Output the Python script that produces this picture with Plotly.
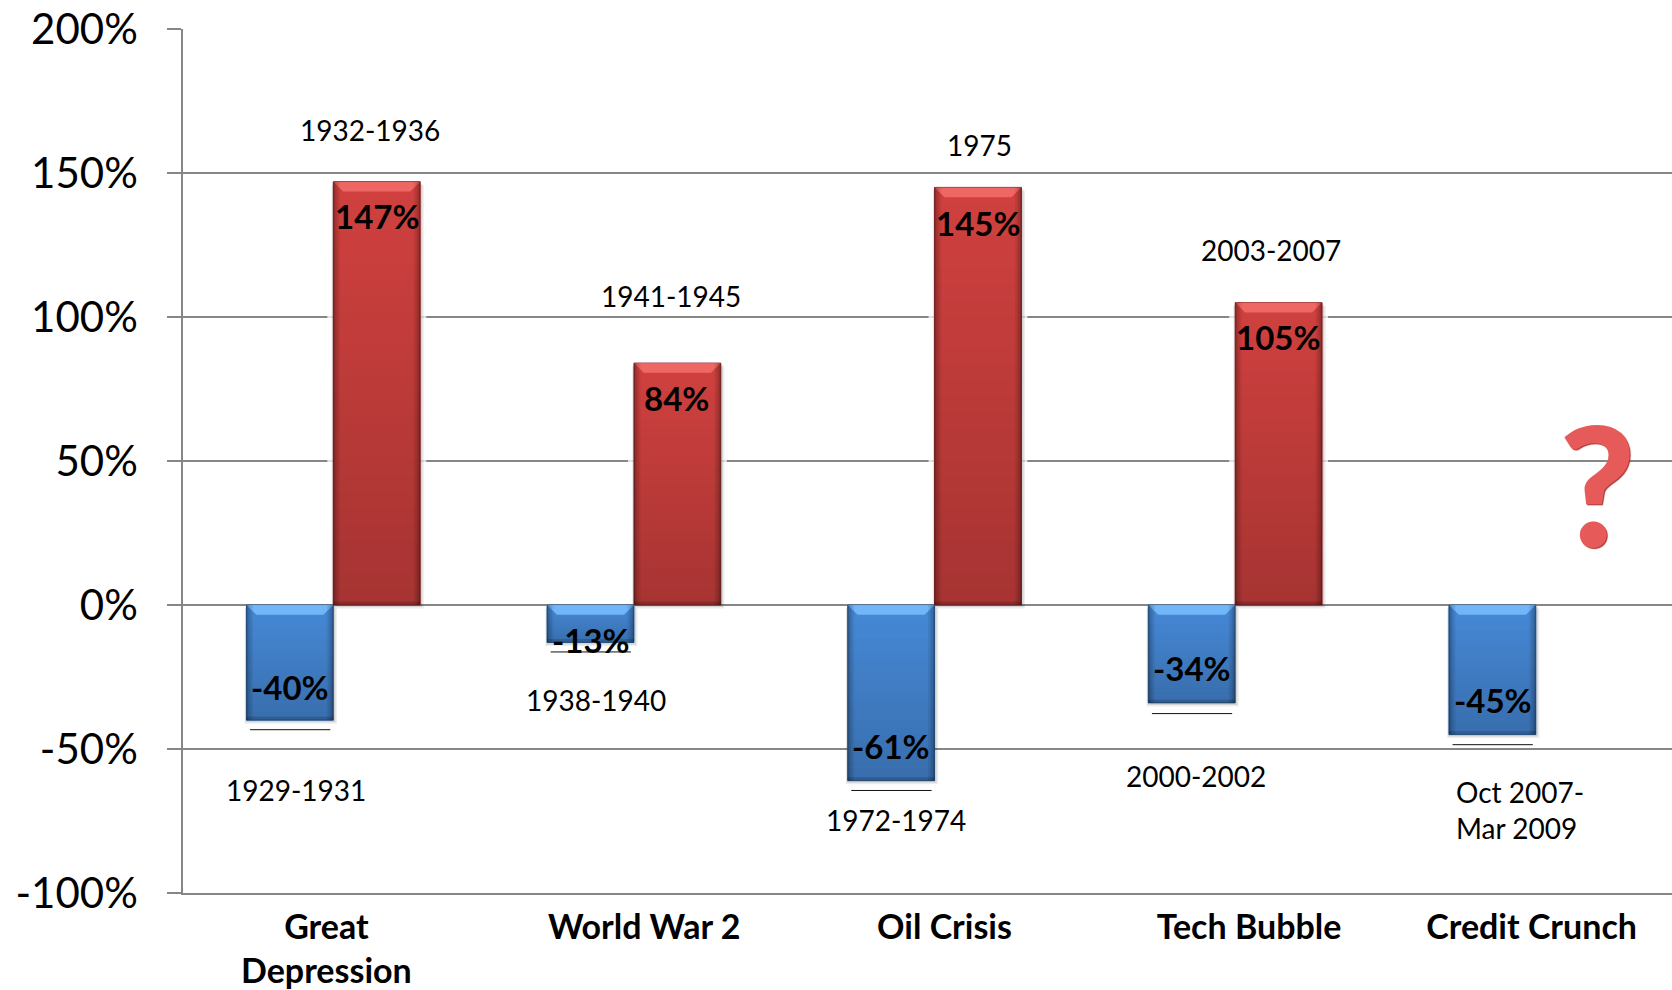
import plotly.graph_objects as go

# ---- data ----
groups = [0, 1, 2, 3, 4]
crash_values = [-40, -13, -61, -34, -45]
rally_values = [147, 84, 145, 105, None]
category_labels = ["Great<br>Depression", "World War 2", "Oil Crisis", "Tech Bubble", "Credit Crunch"]
category_tick_pos = [-0.023, 1.034, 2.033, 3.046, 3.986]
y_ticks = [-100, -50, 0, 50, 100, 150, 200]
y_tick_labels = ["-100%", "-50%", "0%", "50%", "100%", "150%", "200%"]

crash_label_x = [-0.143, 0.858, 1.856, 2.857, 3.858]
crash_label_y = [-28.4, -12.3, -49, -22, -33]
rally_label_x = [0.145, 1.14, 2.145, 3.144]
rally_label_y = [134.9, 71.8, 132.8, 92.9]

crash_periods = ["1929-1931", "1938-1940", "1972-1974", "2000-2002"]
crash_period_x = [-0.125, 0.875, 1.871, 2.868]
crash_period_y = [-64.2, -33.1, -74.6, -59.3]
rally_periods = ["1932-1936", "1941-1945", "1975", "2003-2007"]
rally_period_x = [0.123, 1.123, 2.15, 3.118]
rally_period_y = [165, 107.4, 159.8, 123.4]
leader_y = [-43.3, -16.3, -64.4, -37.7, -48.5]

# ---- style ----
W, H = 1672, 990
BAR_W = 0.289
GRID = "#868686"
FONT = "Lato"
RED, RED_LIGHT = "#dc4543", "rgba(255,125,120,0.65)"
BLUE, BLUE_LIGHT = "#4a90e2", "rgba(120,190,255,0.85)"

fig = go.Figure()
fig.add_bar(x=groups, y=crash_values, name="Crash", marker=dict(color=BLUE, line=dict(color="#2c5f9a", width=1)))
fig.add_bar(x=groups, y=rally_values, name="Rally", marker=dict(color=RED, line=dict(color="#8e2b29", width=1)))

shapes = []
def bevel(x0, x1, v, light):
    """Glossy shading, derived from the bar's own extent."""
    n = 26
    for k in range(n):
        a = v * k / n
        b = v * (k + 1) / n
        frac = (k / n) if v < 0 else (1 - k / n)
        shapes.append(dict(type="rect", xref="x", yref="y", x0=x0, x1=x1, y0=a, y1=b,
                           fillcolor=f"rgba(0,0,0,{0.05 + 0.19 * frac:.3f})", line_width=0, layer="above"))
    top = 0 if v < 0 else v
    bot = v if v < 0 else 0
    dx, dy = 0.033, 3.4
    shapes.append(dict(type="path", xref="x", yref="y", layer="above", line_width=0, fillcolor=light,
                       path=f"M{x0},{top} L{x1},{top} L{x1-dx},{top-dy} L{x0+dx},{top-dy} Z"))
    shapes.append(dict(type="rect", xref="x", yref="y", layer="above", line_width=0, fillcolor="rgba(0,0,0,0.16)",
                       x0=x0, x1=x1, y0=bot, y1=bot + 1.2))
    for j, op in enumerate([0.30, 0.20, 0.12, 0.06]):
        e = 0.0055
        shapes.append(dict(type="rect", xref="x", yref="y", layer="above", line_width=0, x0=x0 + j * e, x1=x0 + (j + 1) * e,
                           y0=bot, y1=top, fillcolor=f"rgba(0,0,0,{op})"))
        shapes.append(dict(type="rect", xref="x", yref="y", layer="above", line_width=0, x0=x1 - (j + 1) * e, x1=x1 - j * e,
                           y0=bot, y1=top, fillcolor=f"rgba(0,0,0,{op})"))

def halo(x0, x1, y0, y1):
    shapes.append(dict(type="rect", xref="x", yref="y", layer="between", line_width=0, fillcolor="rgba(255,255,255,0.75)",
                       x0=x0 - 0.02, x1=x1 + 0.02, y0=y0, y1=y1))

def shadow(x0, x1, y0, y1):
    for off, op in [(0.012, 0.07), (0.007, 0.10)]:
        shapes.append(dict(type="rect", xref="x", yref="y", layer="between", line_width=0, fillcolor=f"rgba(0,0,0,{op})",
                           x0=x0 - off / 2, x1=x1 + off, y0=y0 - off * 100, y1=y1 - off * 100))

for g, v in zip(groups, rally_values):
    if v is not None:
        halo(g, g + BAR_W, 1, v)
        shadow(g, g + BAR_W, 0, v)
for g, v in zip(groups, crash_values):
    shadow(g - BAR_W, g, v, 0)
    bevel(g - BAR_W, g, v, BLUE_LIGHT)
for g, v in zip(groups, rally_values):
    if v is not None:
        bevel(g, g + BAR_W, v, RED_LIGHT)
for g, ly in zip(groups, leader_y):
    shapes.append(dict(type="line", xref="x", yref="y", layer="above", x0=g - BAR_W + 0.012, x1=g - 0.01, y0=ly, y1=ly,
                       line=dict(color="#111111", width=1)))

ann = []
def label(x, y, text, size, bold=False, align="center", xanchor="center", color="#000000", family=FONT, **kw):
    ann.append(dict(x=x, y=y, xref="x", yref="y", text=f"<b>{text}</b>" if bold else text, showarrow=False,
                    font=dict(family=family, size=size, color=color, **kw), align=align, xanchor=xanchor, yanchor="middle"))

for x, y, v in zip(rally_label_x, rally_label_y, rally_values):
    label(x, y, f"{v}%", 33, bold=True)
for x, y, v in zip(crash_label_x, crash_label_y, crash_values):
    label(x, y, f"{v}%", 33, bold=True)
for x, y, t in zip(crash_period_x + rally_period_x, crash_period_y + rally_period_y, crash_periods + rally_periods):
    label(x, y, t, 28)
label(3.729, -71.3, "Oct 2007-<br>Mar 2009", 28, align="left", xanchor="left")
label(4.204, 42.5, "?", 165, color="#e65a5a", weight=900, shadow="1px 1px 1px #a83230")

fig.update_layout(
    width=W, height=H, autosize=False,
    margin=dict(l=182.5, r=0, t=28.6, b=97, pad=0),
    paper_bgcolor="white", plot_bgcolor="white",
    barmode="group", bargap=1 - 2 * BAR_W, bargroupgap=0,
    showlegend=False,
    font=dict(family=FONT, color="#000000"),
    shapes=shapes, annotations=ann,
    xaxis=dict(range=[-0.5, 4.453], tickmode="array", tickvals=category_tick_pos, automargin=False,
               ticktext=[f"<b>{t}</b>".replace("<br>", "</b><br><b>") for t in category_labels],
               showgrid=False, zeroline=False, ticks="", showline=True, linecolor=GRID, linewidth=1.5,
               tickfont=dict(family=FONT, size=34), tickangle=0, ticklabelstandoff=3),
    yaxis=dict(range=[-100, 200], tickmode="array", tickvals=y_ticks, ticktext=y_tick_labels, automargin=False,
               showgrid=True, gridcolor=GRID, gridwidth=1.5, zeroline=False,
               showline=True, linecolor=GRID, linewidth=1.5, ticks="outside", ticklen=14, tickcolor=GRID, tickwidth=1.5,
               tickfont=dict(family=FONT, size=42), ticklabelstandoff=21),
)
fig.write_html("out.html", post_script="document.body.style.margin='0';", config={"displayModeBar": False})
